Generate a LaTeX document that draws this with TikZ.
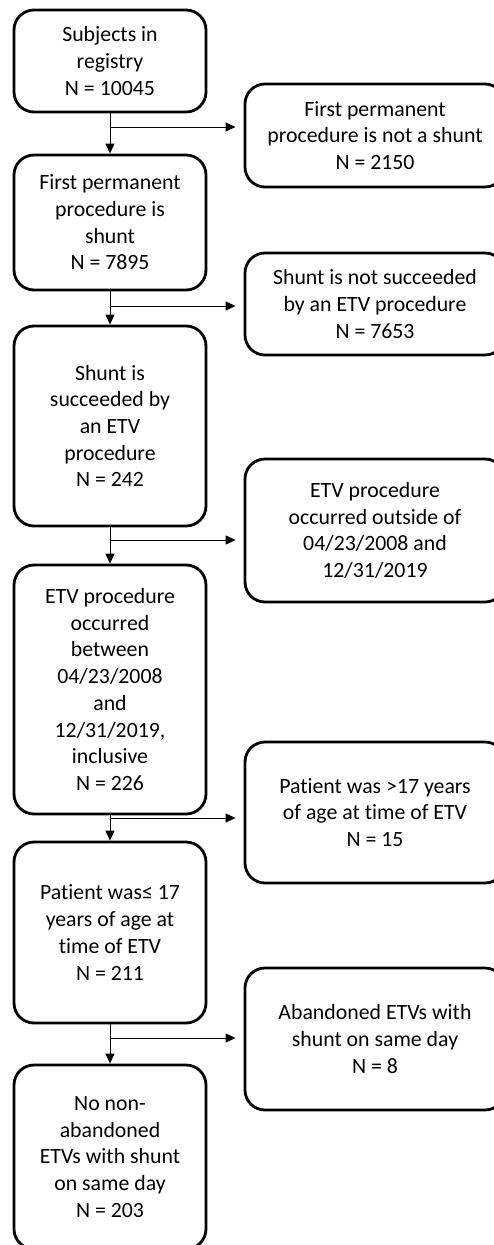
\documentclass[tikz,border=0pt]{standalone}
\usepackage{fontspec}
\setmainfont{Carlito}[RawFeature=-liga]
\usetikzlibrary{arrows.meta}
\begin{document}
\begin{tikzpicture}[x=1pt,y=-1pt,
  box/.style={draw, line width=2.8pt, rounded corners=20pt, align=center, inner sep=0pt,
    font=\fontsize{21.8}{26.7}\selectfont},
  lbox/.style={box, minimum width=192pt},
  rbox/.style={box, minimum width=260pt},
  flow/.style={line width=1pt, -{Triangle[length=10pt,width=9pt]}}]
\useasboundingbox (0,0) rectangle (494,1245);

\node[lbox, minimum height=102pt] (a1) at (110,61) {Subjects in\\registry\\N = 10045};
\node[rbox, minimum height=103pt] (r1) at (375,135.5) {First permanent\\procedure is not a shunt\\N = 2150};
\node[lbox, minimum height=135pt] (a2) at (110,222.5) {First permanent\\procedure is\\shunt\\N = 7895};
\node[rbox, minimum height=102pt] (r2) at (375,304) {Shunt is not succeeded\\by an ETV procedure\\N = 7653};
\node[lbox, minimum height=200pt] (a3) at (110,426) {Shunt is\\succeeded by\\an ETV\\procedure\\N = 242};
\node[rbox, minimum height=143pt] (r3) at (375,530.5) {ETV procedure\\occurred outside of\\04/23/2008 and\\12/31/2019};
\node[lbox, minimum height=249pt] (a4) at (110,689.5) {ETV procedure\\occurred\\between\\04/23/2008\\and\\12/31/2019,\\inclusive\\N = 226};
\node[rbox, minimum height=141pt] (r4) at (375,812.5) {Patient was >17 years\\of age at time of ETV\\N = 15};
\node[lbox, minimum height=181pt] (a5) at (110,932.5) {Patient was≤ 17\\years of age at\\time of ETV\\N = 211};
\node[rbox, minimum height=142pt] (r5) at (375,1039) {Abandoned ETVs with\\shunt on same day\\N = 8};
\node[lbox, minimum height=184pt] (a6) at (110,1157) {No non-\\abandoned\\ETVs with shunt\\on same day\\N = 203};

\coordinate (j1) at (110,127);
\coordinate (j2) at (110,306);
\coordinate (j3) at (110,540);
\coordinate (j4) at (110,818);
\coordinate (j5) at (110,1038);

\draw[flow] (a1) -- (a2);
\draw[flow] (a2) -- (a3);
\draw[flow] (a3) -- (a4);
\draw[flow] (a4) -- (a5);
\draw[flow] (a5) -- (a6);

\draw[flow, shorten >=8pt] (j1) -- (j1 -| r1.west);
\draw[flow, shorten >=8pt] (j2) -- (j2 -| r2.west);
\draw[flow, shorten >=8pt] (j3) -- (j3 -| r3.west);
\draw[flow, shorten >=8pt] (j4) -- (j4 -| r4.west);
\draw[flow, shorten >=8pt] (j5) -- (j5 -| r5.west);
\end{tikzpicture}
\end{document}
